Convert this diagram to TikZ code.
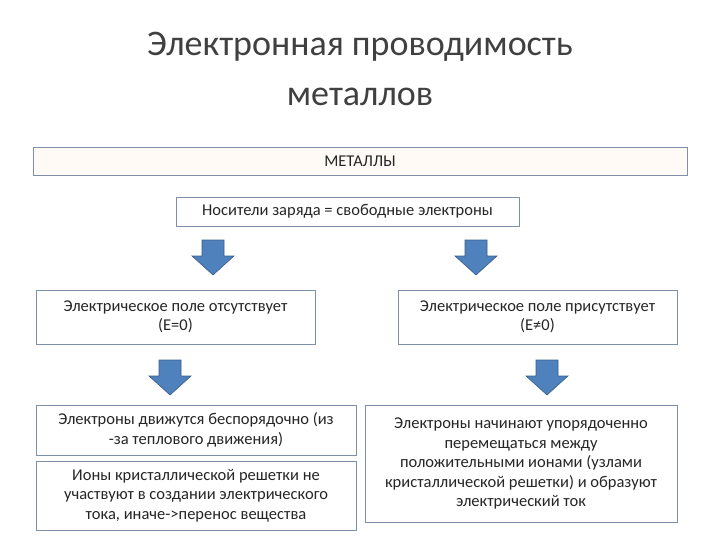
\documentclass[tikz,border=0pt]{standalone}
\usepackage{fontspec}
\setmainfont{Carlito}
\definecolor{bord}{HTML}{7F8FA9}
\definecolor{arr}{HTML}{4F81BD}
\definecolor{arrd}{HTML}{385D8A}
\begin{document}
\begin{tikzpicture}[x=1pt,y=-1pt,
 bx/.style={draw=bord,fill=white,line width=0.8pt,align=center,font=\fontsize{16.5}{19.5}\selectfont,inner sep=2pt,text=black!85},
 dn/.style={fill=arr,draw=arrd,line width=0.6pt}]
\useasboundingbox (0,0) rectangle (720,540);
\node[font=\fontsize{36}{50}\selectfont,align=center,text=black!75] (t) at (360,69) {Электронная проводимость\\металлов};
\node[bx,fill=orange!4,minimum width=654,minimum height=28] (m) at (360,161) {МЕТАЛЛЫ};
\node[bx,minimum width=343,minimum height=29] (c) at (347.5,211.5) {Носители заряда = свободные электроны};
\node[bx,minimum width=279,minimum height=54] (l1) at (175.5,317) {Электрическое поле отсутствует\\(E=0)};
\node[bx,minimum width=279,minimum height=54] (r1) at (537.5,317) {Электрическое поле присутствует\\(E≠0)};
\node[bx,minimum width=320,minimum height=50] (l2) at (196,430) {Электроны движутся беспорядочно (из\\-за теплового движения)};
\node[bx,minimum width=320,minimum height=69] (l3) at (196,495.5) {Ионы кристаллической решетки не\\участвуют в создании электрического\\тока, иначе->перенос вещества};
\node[bx,minimum width=312,minimum height=117] (r2) at (521,463.5) {Электроны начинают упорядоченно\\перемещаться между\\положительными ионами (узлами\\кристаллической решетки) и образуют\\электрический ток};
\foreach \n/\x/\y in {a1/213/240,a2/476/240,a3/170/360,a4/547/360}{
 \coordinate (\n) at (\x,\y);
 \filldraw[dn] (\x-11,\y) -- (\x+11,\y) -- (\x+11,\y+16) -- (\x+21,\y+16) -- (\x,\y+35) -- (\x-21,\y+16) -- (\x-11,\y+16) -- cycle;
}
\end{tikzpicture}
\end{document}
